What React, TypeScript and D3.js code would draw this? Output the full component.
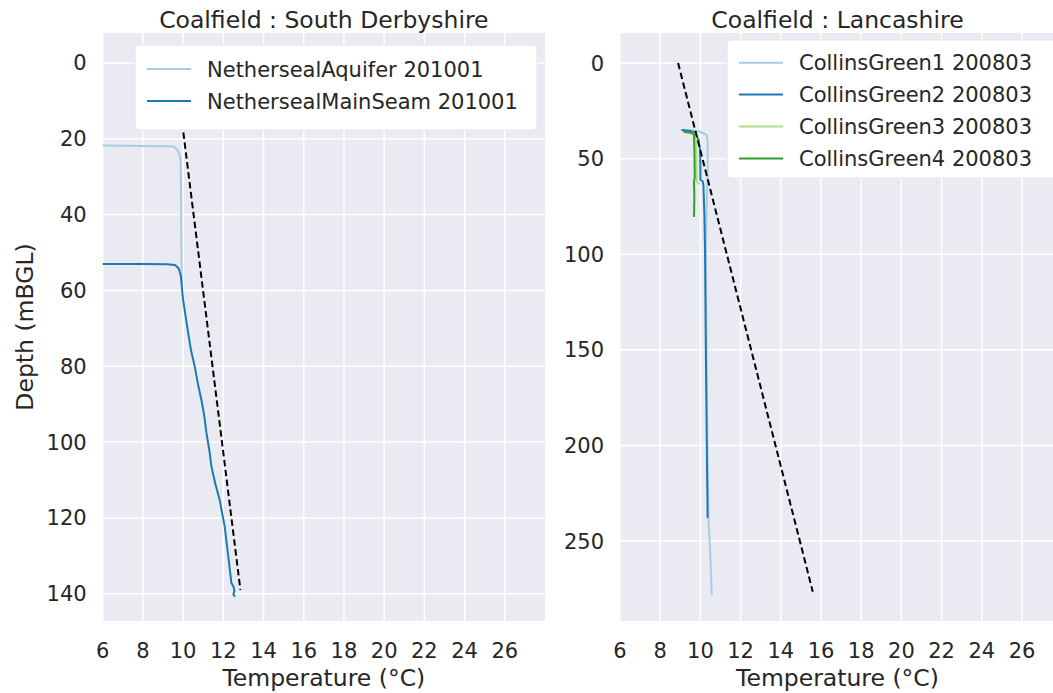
import React from "react";
import * as d3 from "d3";

// ---- tick values ----
const tempTicks = [6, 8, 10, 12, 14, 16, 18, 20, 22, 24, 26];
const derbyDepthTicks = [0, 20, 40, 60, 80, 100, 120, 140];
const lancsDepthTicks = [0, 50, 100, 150, 200, 250];

// ---- South Derbyshire profiles (temperature °C, depth mBGL) ----
const aquiferTemp = [3.5, 6.0, 8.0, 9.3, 9.55, 9.7, 9.82, 9.88, 9.9, 9.91, 9.93, 9.95];
const aquiferDepth = [21.8, 21.8, 21.9, 22.0, 22.1, 22.9, 24.0, 26, 35, 45, 55, 59];

const mainSeamTemp = [
  3.5, 6.0, 8.0, 9.2, 9.6, 9.78, 9.88, 9.92, 9.96, 10.0, 10.1, 10.25, 10.4, 10.58,
  10.75, 10.91, 11.05, 11.16, 11.3, 11.41, 11.6, 11.82, 11.95, 12.07, 12.15, 12.23,
  12.32, 12.4, 12.52, 12.55, 12.5, 12.58,
];
const mainSeamDepth = [
  53.0, 53.0, 53.0, 53.1, 53.3, 54.2, 56, 58, 60.5, 62.5, 66, 71.2, 76, 80.1,
  85, 88.9, 93, 97.6, 102, 106.5, 111, 115.3, 119, 122.3, 126, 129.4,
  133.5, 137.2, 138.3, 139.3, 140.2, 140.8,
];

// ---- Lancashire profiles ----
const cg1Temp = [9.02, 9.5, 9.95, 10.3, 10.36, 10.36, 10.32, 10.27, 10.3, 10.35, 10.4, 10.46, 10.57];
const cg1Depth = [35, 35.2, 35.8, 37.5, 40, 61, 70, 100, 150, 200, 238, 250, 278];

const cg2Temp = [9.07, 9.5, 9.73, 9.9, 9.98, 10.0, 10.0, 10.12, 10.15, 10.2, 10.23, 10.27, 10.32, 10.36];
const cg2Depth = [35, 35.5, 36.5, 40, 45, 55, 61, 62, 64, 80, 98, 150, 202, 238];

const cg3Temp = [9.2, 9.6, 9.78, 9.8, 9.8, 9.82, 9.95];
const cg3Depth = [36.2, 36.8, 37.5, 45, 55, 62, 63.5];

const cg4Temp = [9.15, 9.55, 9.68, 9.7, 9.72, 9.68, 9.7, 9.68];
const cg4Depth = [36, 36.5, 37.5, 45, 60, 62, 70, 80.5];

// ---- reference geothermal gradients (endpoints) ----
const derbyGradTemp = [9.58, 12.85];
const derbyGradDepth = [0, 139];
const lancsGradTemp = [8.89, 15.59];
const lancsGradDepth = [0, 276.5];

const derbyLabels = ["NethersealAquifer 201001", "NethersealMainSeam 201001"];
const lancsLabels = [
  "CollinsGreen1 200803",
  "CollinsGreen2 200803",
  "CollinsGreen3 200803",
  "CollinsGreen4 200803",
];

const PAIRED = ["#a6cee3", "#1f78b4", "#b2df8a", "#33a02c"];
const FONT = "DejaVu Sans";
const TEXT = "#262626";
const BG = "#eaeaf2";

type Series = { label: string; temp: number[]; depth: number[]; color: string };

type PanelProps = {
  id: string;
  title: string;
  left: number;
  right: number;
  top: number;
  bottom: number;
  xDomain: [number, number];
  yDomain: [number, number];
  yTicks: number[];
  series: Series[];
  gradTemp: number[];
  gradDepth: number[];
  legend: { x: number; y: number; w: number; h: number; rowY0: number; rowStep: number };
  showYLabel: boolean;
};

function Panel(p: PanelProps) {
  const x = d3.scaleLinear().domain(p.xDomain).range([p.left, p.right]);
  const y = d3.scaleLinear().domain(p.yDomain).range([p.top, p.bottom]);
  const line = d3
    .line<[number, number]>()
    .x((d) => x(d[0]))
    .y((d) => y(d[1]));
  const pts = (t: number[], z: number[]) => t.map((v, i) => [v, z[i]] as [number, number]);
  const cx = (p.left + p.right) / 2;
  const cy = (p.top + p.bottom) / 2;
  const lg = p.legend;

  return (
    <g>
      <defs>
        <clipPath id={p.id}>
          <rect x={p.left} y={p.top} width={p.right - p.left} height={p.bottom - p.top} />
        </clipPath>
      </defs>
      <rect x={p.left} y={p.top} width={p.right - p.left} height={p.bottom - p.top} fill={BG} />
      {tempTicks.map((t) => (
        <line key={"gx" + t} x1={x(t)} x2={x(t)} y1={p.top} y2={p.bottom} stroke="#fff" strokeWidth={1.5} />
      ))}
      {p.yTicks.map((t) => (
        <line key={"gy" + t} x1={p.left} x2={p.right} y1={y(t)} y2={y(t)} stroke="#fff" strokeWidth={1.5} />
      ))}
      <g clipPath={`url(#${p.id})`}>
        {p.series.map((s) => (
          <path key={s.label} d={line(pts(s.temp, s.depth)) || ""} fill="none" stroke={s.color} strokeWidth={2} strokeLinejoin="round" />
        ))}
        <path
          d={line(pts(p.gradTemp, p.gradDepth)) || ""}
          fill="none"
          stroke="#000"
          strokeWidth={2}
          strokeDasharray="6.5,3.5"
        />
      </g>
      {tempTicks.map((t) => (
        <text key={"tx" + t} x={x(t)} y={658} textAnchor="middle" fontFamily={FONT} fontSize={21} fill={TEXT}>
          {t}
        </text>
      ))}
      {p.yTicks.map((t) => (
        <text key={"ty" + t} x={p.left - 16} y={y(t) + 7.5} textAnchor="end" fontFamily={FONT} fontSize={21} fill={TEXT}>
          {t}
        </text>
      ))}
      <text x={cx} y={28} textAnchor="middle" fontFamily={FONT} fontSize={23.5} fill={TEXT}>
        {p.title}
      </text>
      <text x={cx} y={686} textAnchor="middle" fontFamily={FONT} fontSize={23.5} fill={TEXT}>
        Temperature (°C)
      </text>
      {p.showYLabel && (
        <text
          transform={`translate(33,${cy}) rotate(-90)`}
          textAnchor="middle"
          fontFamily={FONT}
          fontSize={23.5}
          fill={TEXT}
        >
          Depth (mBGL)
        </text>
      )}
      <rect x={lg.x} y={lg.y} width={lg.w} height={lg.h} rx={4} fill="#fff" stroke="#e6e6e6" strokeWidth={1} />
      {p.series.map((s, i) => {
        const ry = lg.rowY0 + i * lg.rowStep;
        return (
          <g key={"lg" + s.label}>
            <line x1={lg.x + 12} x2={lg.x + 56} y1={ry} y2={ry} stroke={s.color} strokeWidth={2} />
            <text x={lg.x + 72} y={ry + 7.5} fontFamily={FONT} fontSize={21} fill={TEXT}>
              {s.label}
            </text>
          </g>
        );
      })}
    </g>
  );
}

export default function App() {
  const derbySeries: Series[] = [
    { label: derbyLabels[0], temp: aquiferTemp, depth: aquiferDepth, color: PAIRED[0] },
    { label: derbyLabels[1], temp: mainSeamTemp, depth: mainSeamDepth, color: PAIRED[1] },
  ];
  const lancsSeries: Series[] = [
    { label: lancsLabels[0], temp: cg1Temp, depth: cg1Depth, color: PAIRED[0] },
    { label: lancsLabels[1], temp: cg2Temp, depth: cg2Depth, color: PAIRED[1] },
    { label: lancsLabels[2], temp: cg3Temp, depth: cg3Depth, color: PAIRED[2] },
    { label: lancsLabels[3], temp: cg4Temp, depth: cg4Depth, color: PAIRED[3] },
  ];
  return (
    <svg
      width={1053}
      height={693}
      style={{ position: "absolute", left: 0, top: 0, background: "#fff" }}
    >
      <Panel
        id="clip-derby"
        title="Coalfield : South Derbyshire"
        left={102.7}
        right={545}
        top={33}
        bottom={621}
        xDomain={[6, 28]}
        yDomain={[-7.9, 147.2]}
        yTicks={derbyDepthTicks}
        series={derbySeries}
        gradTemp={derbyGradTemp}
        gradDepth={derbyGradDepth}
        legend={{ x: 135, y: 45, w: 402, h: 85, rowY0: 69, rowStep: 32 }}
        showYLabel={true}
      />
      <Panel
        id="clip-lancs"
        title="Coalfield : Lancashire"
        left={620}
        right={1055}
        top={33}
        bottom={621}
        xDomain={[6, 27.64]}
        yDomain={[-15.7, 291.8]}
        yTicks={lancsDepthTicks}
        series={lancsSeries}
        gradTemp={lancsGradTemp}
        gradDepth={lancsGradDepth}
        legend={{ x: 727, y: 40, w: 340, h: 138, rowY0: 62.7, rowStep: 31.9 }}
        showYLabel={false}
      />
    </svg>
  );
}
